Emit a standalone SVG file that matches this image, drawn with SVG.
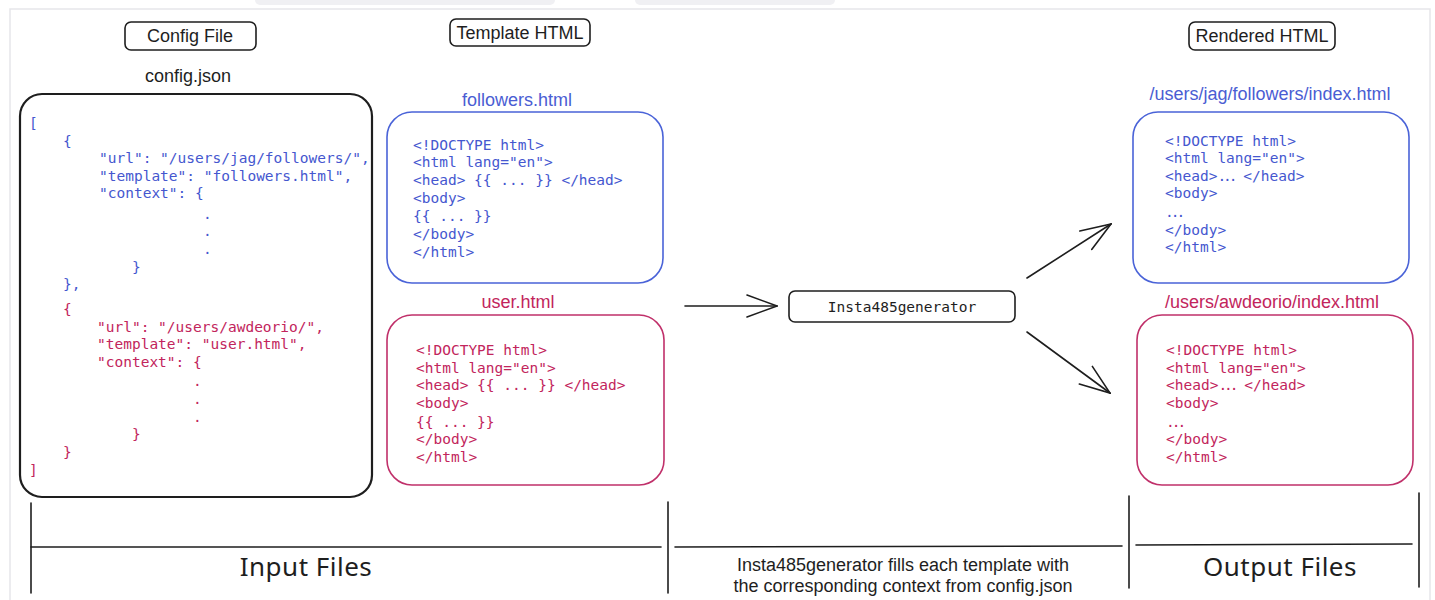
<svg xmlns="http://www.w3.org/2000/svg" width="1435" height="600" viewBox="0 0 1435 600">
  <style>
    .label { font-family: "Liberation Sans", Arial, sans-serif; font-size: 18px; fill: #1e1e1e; text-anchor: middle; }
    .title-blue { font-family: "Liberation Sans", Arial, sans-serif; font-size: 18px; fill: #4a5dd3; text-anchor: middle; }
    .title-red { font-family: "Liberation Sans", Arial, sans-serif; font-size: 18px; fill: #c2255c; text-anchor: middle; }
    .code { font-family: "DejaVu Sans Mono", "Liberation Mono", monospace; font-size: 14.5px; white-space: pre; }
    .blue { fill: #4557cf; }
    .red { fill: #c2255c; }
    .tag { fill: #ffffff; stroke: #1e1e1e; stroke-width: 1.6; }
    .box-black { fill: #ffffff; stroke: #1e1e1e; stroke-width: 2.2; }
    .box-blue { fill: #ffffff; stroke: #4a63d8; stroke-width: 1.6; }
    .box-red { fill: #ffffff; stroke: #c0306a; stroke-width: 1.6; }
    .line { stroke: #1e1e1e; stroke-width: 1.6; fill: none; stroke-linecap: round; }
    .hand { font-family: "Noto Sans", "DejaVu Sans", sans-serif; font-size: 26px; fill: #1e1e1e; text-anchor: middle; letter-spacing: 0.5px; }
    .note { font-family: "Liberation Sans", Arial, sans-serif; font-size: 18px; fill: #1e1e1e; text-anchor: middle; }
    .dots { letter-spacing: -3px; }
  </style>
  <defs>
    <marker id="head" markerUnits="userSpaceOnUse" viewBox="0 0 32 24" refX="31" refY="12" markerWidth="32" markerHeight="24" orient="auto">
      <path d="M1,1 L31,12 L1,23" fill="none" stroke="#1e1e1e" stroke-width="1.6" stroke-linecap="round"/>
    </marker>
  </defs>

  <!-- page background and frame -->
  <rect x="0" y="0" width="1435" height="600" fill="#ffffff"/>
  <rect x="255" y="-10" width="300" height="15" rx="5" fill="#f0f0f3"/>
  <rect x="635" y="-10" width="200" height="15" rx="5" fill="#f0f0f3"/>
  <path d="M10,600 L10,9 L1430,9 L1430,600" fill="none" stroke="#e6e6ea" stroke-width="1.5"/>

  <!-- column headers -->
  <g id="config-file-label">
    <rect class="tag" x="125" y="22" width="131" height="28" rx="6"/>
    <text class="label" x="190" y="42">Config File</text>
  </g>
  <g id="template-html-label">
    <rect class="tag" x="450" y="19" width="140" height="27" rx="6"/>
    <text class="label" x="520" y="39">Template HTML</text>
  </g>
  <g id="rendered-html-label">
    <rect class="tag" x="1189" y="22" width="146" height="28" rx="6"/>
    <text class="label" x="1262" y="42">Rendered HTML</text>
  </g>

  <!-- config.json -->
  <g id="config-json">
    <text class="label" x="188" y="82">config.json</text>
    <rect class="box-black" x="20" y="94" width="352" height="403" rx="22"/>
    <g class="code blue">
      <text x="29" y="128">[</text>
      <text x="63" y="146">{</text>
      <text x="99" y="163">"url": "/users/jag/followers/",</text>
      <text x="99" y="181">"template": "followers.html",</text>
      <text x="99" y="198">"context": {</text>
      <text x="203" y="219">.</text>
      <text x="203" y="236">.</text>
      <text x="203" y="254">.</text>
      <text x="132" y="272">}</text>
      <text x="63" y="289">},</text>
    </g>
    <g class="code red">
      <text x="63" y="314">{</text>
      <text x="97" y="332">"url": "/users/awdeorio/",</text>
      <text x="97" y="349">"template": "user.html",</text>
      <text x="97" y="367">"context": {</text>
      <text x="193" y="386">.</text>
      <text x="193" y="404">.</text>
      <text x="193" y="422">.</text>
      <text x="132" y="439">}</text>
      <text x="63" y="457">}</text>
      <text x="29" y="475">]</text>
    </g>
  </g>

  <!-- followers.html template -->
  <g id="followers-template">
    <text class="title-blue" x="517" y="106">followers.html</text>
    <rect class="box-blue" x="387" y="112" width="276" height="171" rx="25"/>
    <g class="code blue">
      <text x="413" y="150">&lt;!DOCTYPE html&gt;</text>
      <text x="413" y="167">&lt;html lang="en"&gt;</text>
      <text x="413" y="185">&lt;head&gt; {{ ... }} &lt;/head&gt;</text>
      <text x="413" y="203">&lt;body&gt;</text>
      <text x="413" y="221">{{ ... }}</text>
      <text x="413" y="239">&lt;/body&gt;</text>
      <text x="413" y="257">&lt;/html&gt;</text>
    </g>
  </g>

  <!-- user.html template -->
  <g id="user-template">
    <text class="title-red" x="518" y="308">user.html</text>
    <rect class="box-red" x="387" y="315" width="277" height="170" rx="25"/>
    <g class="code red">
      <text x="416" y="355">&lt;!DOCTYPE html&gt;</text>
      <text x="416" y="373">&lt;html lang="en"&gt;</text>
      <text x="416" y="390">&lt;head&gt; {{ ... }} &lt;/head&gt;</text>
      <text x="416" y="408">&lt;body&gt;</text>
      <text x="416" y="427">{{ ... }}</text>
      <text x="416" y="444">&lt;/body&gt;</text>
      <text x="416" y="462">&lt;/html&gt;</text>
    </g>
  </g>

  <!-- generator -->
  <g id="generator">
    <rect class="tag" x="789" y="291" width="226" height="31" rx="6"/>
    <text class="code" x="902" y="312" text-anchor="middle" fill="#1e1e1e" font-size="13.5px">Insta485generator</text>
  </g>

  <!-- rendered followers page -->
  <g id="followers-output">
    <text class="title-blue" x="1270" y="100">/users/jag/followers/index.html</text>
    <rect class="box-blue" x="1133" y="112" width="276" height="171" rx="25"/>
    <g class="code blue">
      <text x="1165" y="146">&lt;!DOCTYPE html&gt;</text>
      <text x="1165" y="163">&lt;html lang="en"&gt;</text>
      <text x="1165" y="181">&lt;head&gt;<tspan class="dots">...</tspan> &lt;/head&gt;</text>
      <text x="1165" y="198">&lt;body&gt;</text>
      <text x="1165" y="217"> <tspan class="dots">...</tspan></text>
      <text x="1165" y="235">&lt;/body&gt;</text>
      <text x="1165" y="252">&lt;/html&gt;</text>
    </g>
  </g>

  <!-- rendered user page -->
  <g id="user-output">
    <text class="title-red" x="1272" y="308">/users/awdeorio/index.html</text>
    <rect class="box-red" x="1137" y="315" width="276" height="170" rx="25"/>
    <g class="code red">
      <text x="1166" y="355">&lt;!DOCTYPE html&gt;</text>
      <text x="1166" y="373">&lt;html lang="en"&gt;</text>
      <text x="1166" y="390">&lt;head&gt;<tspan class="dots">...</tspan> &lt;/head&gt;</text>
      <text x="1166" y="408">&lt;body&gt;</text>
      <text x="1166" y="427"> <tspan class="dots">...</tspan></text>
      <text x="1166" y="444">&lt;/body&gt;</text>
      <text x="1166" y="462">&lt;/html&gt;</text>
    </g>
  </g>

  <!-- connectors -->
  <g id="connectors">
    <path class="line" d="M685,306 L777,306" marker-end="url(#head)"/>
    <path class="line" d="M1027,278 L1111,224" marker-end="url(#head)"/>
    <path class="line" d="M1027,332 L1110,393" marker-end="url(#head)"/>
  </g>

  <!-- section brackets -->
  <g id="input-files">
    <path class="line" d="M31,503 L31,593"/>
    <path class="line" d="M31,547 L661,547"/>
    <path class="line" d="M668,502 L668,593"/>
    <text class="hand" x="306" y="576">Input Files</text>
  </g>
  <g id="generator-note">
    <path class="line" d="M675,547 L1122,546"/>
    <path class="line" d="M1129,496 L1129,588"/>
    <text class="note" x="903" y="571">Insta485generator fills each template with</text>
    <text class="note" x="903" y="592">the corresponding context from config.json</text>
  </g>
  <g id="output-files">
    <path class="line" d="M1136,545 L1412,544"/>
    <path class="line" d="M1419,493 L1419,587"/>
    <text class="hand" x="1280" y="576">Output Files</text>
  </g>
</svg>
